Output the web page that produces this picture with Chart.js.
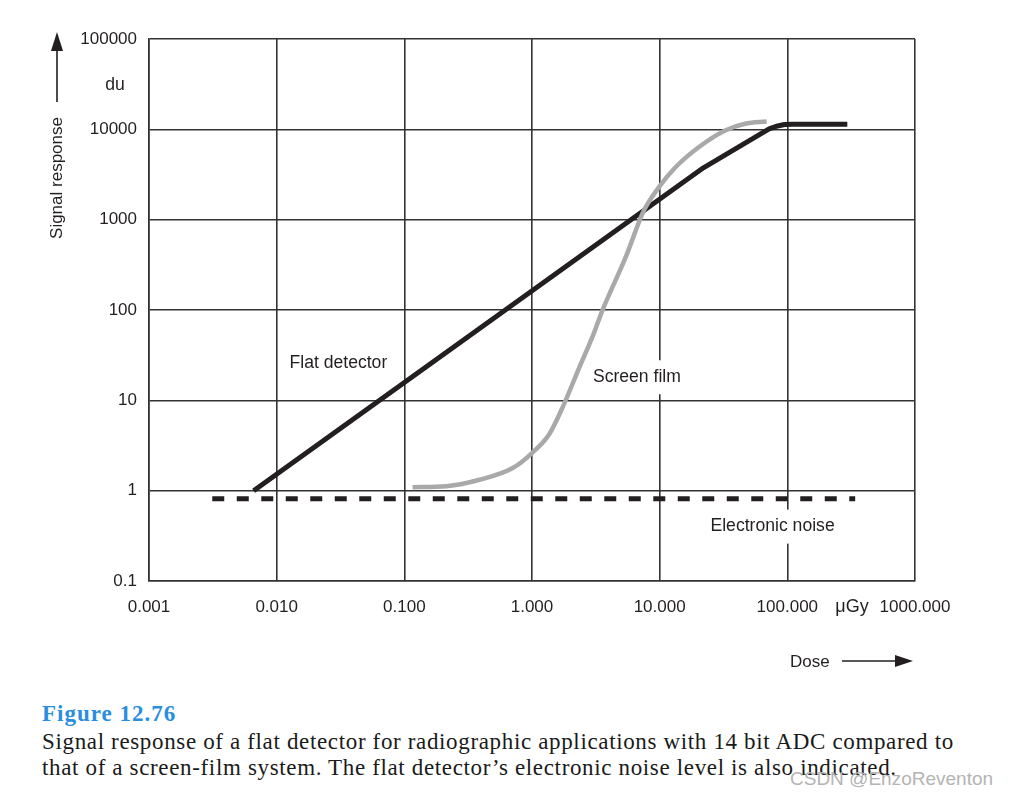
<!DOCTYPE html>
<html>
<head>
<meta charset="utf-8">
<script src="https://cdn.jsdelivr.net/npm/chart.js@4.4.1/dist/chart.umd.min.js"></script>
<style>
  body { margin: 0; background: #fff; width: 1009px; height: 799px; overflow: hidden; position: relative; }
  #wrap { position: absolute; left: 0; top: 0; width: 1009px; height: 690px; }
  .cap { position: absolute; left: 42px; font-family: "Liberation Serif", serif; color: #1a1a1a; white-space: nowrap; }
  #figno { top: 701px; font-weight: bold; color: #2a8ee0; font-size: 23px; letter-spacing: 1px; }
  #line1 { top: 729px; font-size: 23px; letter-spacing: 0.65px; }
  #line2 { top: 755px; font-size: 23px; letter-spacing: 0.65px; }
  #wm { position: absolute; left: 790px; top: 768px; font-family: "Liberation Sans", sans-serif; font-size: 19px; color: #b4b4b4; }
</style>
</head>
<body>
<div id="wrap"><canvas id="signalChart" width="1009" height="690"></canvas></div>
<div class="cap" id="figno">Figure 12.76</div>
<div class="cap" id="line1">Signal response of a flat detector for radiographic applications with 14 bit ADC compared to</div>
<div class="cap" id="line2">that of a screen-film system. The flat detector’s electronic noise level is also indicated.</div>
<div id="wm">CSDN @EnzoReventon</div>
<script>
// data (dose in µGy, signal in du)
const flatDose   = [0.0066, 22, 72, 84, 95, 110, 295];
const flatSignal = [1, 3750, 10100, 10900, 11300, 11400, 11400];

const filmDose   = [0.116, 0.213, 0.388, 0.706, 1.0, 1.36, 1.73, 2.34, 3.0, 3.55, 5.41, 7.52, 9.84, 13.3, 20.2, 32.6, 46.7, 68.9];
const filmSignal = [1.09, 1.12, 1.32, 1.78, 2.61, 4.18, 8.26, 22.9, 52, 98, 382, 1260, 2280, 3800, 6340, 9720, 11530, 12240];

const noiseDose   = [0.00313, 340];
const noiseSignal = [0.815, 0.815];

const xTicks = [0.001, 0.01, 0.1, 1, 10, 100, 1000];
const xTickLabels = ['0.001', '0.010', '0.100', '1.000', '10.000', '100.000', '1000.000'];
const yTicks = [0.1, 1, 10, 100, 1000, 10000, 100000];
const yTickLabels = ['0.1', '1', '10', '100', '1000', '10000', '100000'];

const toPoints = (xs, ys) => xs.map((x, i) => ({ x: x, y: ys[i] }));

const txtFont = '17px "Liberation Sans", Arial, sans-serif';
const ink = '#231f20';

// labels, units and axis arrows drawn on top
const annotations = {
    id: 'annotations',
    afterDatasetsDraw(chart) {
        const ctx = chart.ctx;
        const xs = chart.scales.x, ys = chart.scales.y;
        ctx.save();
        ctx.font = txtFont;
        ctx.fillStyle = ink;
        ctx.textBaseline = 'middle';

        // in-plot labels with white boxes (they break the grid lines)
        ctx.font = '17.6px "Liberation Sans", Arial, sans-serif';
        const labels = [
            { t: 'Flat detector', x: xs.getPixelForValue(0.0126), y: ys.getPixelForValue(26) },
            { t: 'Screen film', x: xs.getPixelForValue(3.0), y: ys.getPixelForValue(18) },
            { t: 'Electronic noise', x: xs.getPixelForValue(25), y: ys.getPixelForValue(0.4) }
        ];
        labels.forEach(l => {
            const w = ctx.measureText(l.t).width;
            ctx.fillStyle = '#fff';
            ctx.fillRect(l.x - 4, l.y - 17, w + 8, 34);
            ctx.fillStyle = ink;
            ctx.textAlign = 'left';
            ctx.fillText(l.t, l.x, l.y);
        });

        // units
        ctx.textAlign = 'center';
        ctx.fillText('du', 115, ys.getPixelForValue(31000));
        ctx.font = '18px "Liberation Sans", Arial, sans-serif';
        ctx.fillText('\u03bcGy', 852, xs.top + 26);
        ctx.font = txtFont;

        // y axis title with arrow
        ctx.save();
        ctx.translate(57, 178);
        ctx.rotate(-Math.PI / 2);
        ctx.fillText('Signal response', 0, 0);
        ctx.restore();
        ctx.strokeStyle = ink;
        ctx.lineWidth = 1.6;
        ctx.beginPath();
        ctx.moveTo(57, 102);
        ctx.lineTo(57, 48);
        ctx.stroke();
        ctx.beginPath();
        ctx.moveTo(57, 32);
        ctx.lineTo(63, 51);
        ctx.lineTo(51, 51);
        ctx.closePath();
        ctx.fill();

        // x axis title with arrow
        ctx.textAlign = 'left';
        ctx.fillText('Dose', 790, 662);
        ctx.beginPath();
        ctx.moveTo(842, 661);
        ctx.lineTo(897, 661);
        ctx.stroke();
        ctx.beginPath();
        ctx.moveTo(913, 661);
        ctx.lineTo(895, 655);
        ctx.lineTo(895, 667);
        ctx.closePath();
        ctx.fill();
        ctx.restore();
    }
};

const ctx = document.getElementById('signalChart').getContext('2d');
const signalChart = new Chart(ctx, {
    type: 'scatter',
    data: {
        datasets: [{
            label: 'Electronic noise',
            data: toPoints(noiseDose, noiseSignal),
            showLine: true,
            borderColor: ink,
            borderWidth: 5,
            borderDash: [12, 12.5],
            borderCapStyle: 'butt',
            pointRadius: 0
        }, {
            label: 'Screen film',
            data: toPoints(filmDose, filmSignal),
            showLine: true,
            borderColor: '#a9a9a9',
            borderWidth: 4.5,
            cubicInterpolationMode: 'monotone',
            borderCapStyle: 'butt',
            pointRadius: 0
        }, {
            label: 'Flat detector',
            data: toPoints(flatDose, flatSignal),
            showLine: true,
            borderColor: ink,
            borderWidth: 5,
            tension: 0,
            borderJoinStyle: 'round',
            borderCapStyle: 'butt',
            pointRadius: 0
        }]
    },
    options: {
        responsive: false,
        animation: false,
        devicePixelRatio: 1,
        layout: { padding: { left: 0, top: 39, right: 94, bottom: 0 } },
        plugins: {
            legend: { display: false },
            tooltip: { enabled: false }
        },
        scales: {
            x: {
                type: 'logarithmic',
                min: 0.001,
                max: 1000,
                afterBuildTicks: scale => { scale.ticks = xTicks.map(v => ({ value: v })); },
                afterFit: scale => { scale.height = 109; },
                border: { color: '#333', width: 1.6 },
                grid: { color: '#333', lineWidth: 1.6, drawTicks: false },
                ticks: {
                    autoSkip: false,
                    maxRotation: 0,
                    padding: 16,
                    color: ink,
                    font: { family: '"Liberation Sans", Arial, sans-serif', size: 17 },
                    callback: (v, i) => xTickLabels[i]
                }
            },
            y: {
                type: 'logarithmic',
                min: 0.1,
                max: 100000,
                afterBuildTicks: scale => { scale.ticks = yTicks.map(v => ({ value: v })); },
                afterFit: scale => { scale.width = 149; },
                border: { color: '#333', width: 1.6 },
                grid: { color: '#333', lineWidth: 1.6, drawTicks: false },
                ticks: {
                    autoSkip: false,
                    padding: 12,
                    color: ink,
                    font: { family: '"Liberation Sans", Arial, sans-serif', size: 17 },
                    callback: (v, i) => yTickLabels[i]
                }
            }
        }
    },
    plugins: [annotations]
});
</script>
</body>
</html>
